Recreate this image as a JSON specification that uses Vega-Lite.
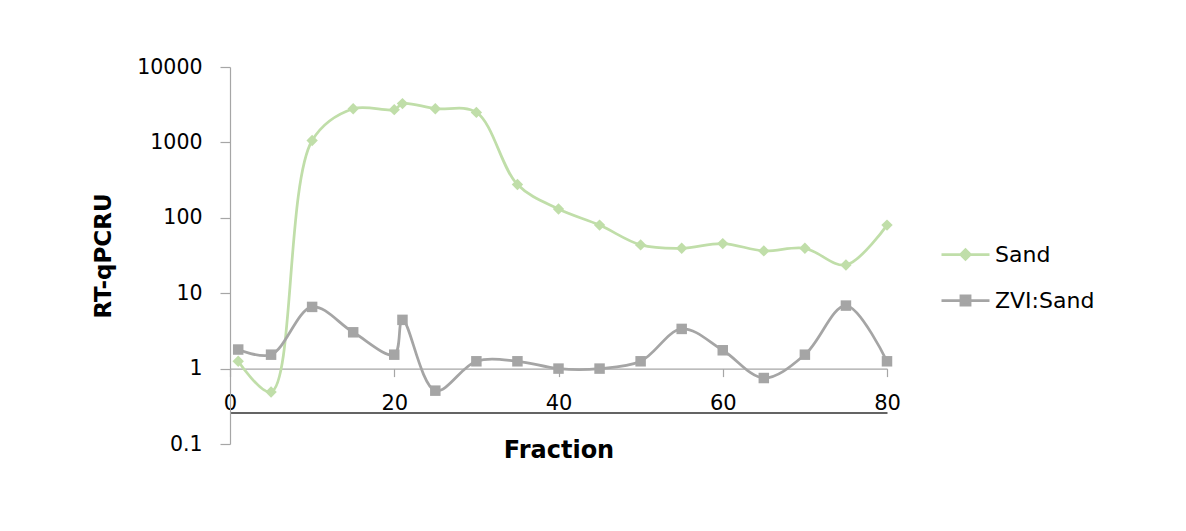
{
  "$schema": "https://vega.github.io/schema/vega-lite/v6.json",
  "width": 657,
  "height": 377,
  "autosize": {"type": "none"},
  "padding": {"left": 230, "top": 67, "right": 299, "bottom": 87},
  "background": "white",
  "config": {
    "view": {"stroke": null},
    "font": "DejaVu Sans",
    "axis": {"grid": false, "labelFont": "DejaVu Sans", "titleFont": "DejaVu Sans", "labelColor": "#000000", "titleColor": "#000000"}
  },
  "data": {
    "values": [
      {"series": "Sand", "fraction": 1, "value": 1.25},
      {"series": "Sand", "fraction": 5, "value": 0.49},
      {"series": "Sand", "fraction": 10, "value": 1060},
      {"series": "Sand", "fraction": 15, "value": 2800},
      {"series": "Sand", "fraction": 20, "value": 2720},
      {"series": "Sand", "fraction": 21, "value": 3270},
      {"series": "Sand", "fraction": 25, "value": 2800},
      {"series": "Sand", "fraction": 30, "value": 2500},
      {"series": "Sand", "fraction": 35, "value": 276},
      {"series": "Sand", "fraction": 40, "value": 131},
      {"series": "Sand", "fraction": 45, "value": 80},
      {"series": "Sand", "fraction": 50, "value": 43.7},
      {"series": "Sand", "fraction": 55, "value": 39.4},
      {"series": "Sand", "fraction": 60, "value": 45.5},
      {"series": "Sand", "fraction": 65, "value": 36.4},
      {"series": "Sand", "fraction": 70, "value": 39.4},
      {"series": "Sand", "fraction": 75, "value": 23.7},
      {"series": "Sand", "fraction": 80, "value": 80},
      {"series": "ZVI:Sand", "fraction": 1, "value": 1.79},
      {"series": "ZVI:Sand", "fraction": 5, "value": 1.53},
      {"series": "ZVI:Sand", "fraction": 10, "value": 6.58},
      {"series": "ZVI:Sand", "fraction": 15, "value": 3.03},
      {"series": "ZVI:Sand", "fraction": 20, "value": 1.53},
      {"series": "ZVI:Sand", "fraction": 21, "value": 4.43},
      {"series": "ZVI:Sand", "fraction": 25, "value": 0.51},
      {"series": "ZVI:Sand", "fraction": 30, "value": 1.25},
      {"series": "ZVI:Sand", "fraction": 35, "value": 1.25},
      {"series": "ZVI:Sand", "fraction": 40, "value": 1.0},
      {"series": "ZVI:Sand", "fraction": 45, "value": 1.0},
      {"series": "ZVI:Sand", "fraction": 50, "value": 1.25},
      {"series": "ZVI:Sand", "fraction": 55, "value": 3.36},
      {"series": "ZVI:Sand", "fraction": 60, "value": 1.75},
      {"series": "ZVI:Sand", "fraction": 65, "value": 0.75},
      {"series": "ZVI:Sand", "fraction": 70, "value": 1.53},
      {"series": "ZVI:Sand", "fraction": 75, "value": 6.85},
      {"series": "ZVI:Sand", "fraction": 80, "value": 1.25}
    ]
  },
  "resolve": {"scale": {"x": "shared"}, "axis": {"x": "independent"}},
  "layer": [
    {
      "mark": {"type": "line", "interpolate": "catmull-rom", "strokeWidth": 2.75},
      "encoding": {
        "x": {
          "field": "fraction", "type": "quantitative",
          "scale": {"domain": [0, 80], "nice": false, "zero": false},
          "axis": {
            "orient": "bottom", "offset": -75.4,
            "values": [0, 20, 40, 60, 80],
            "domainColor": "#a6a6a6", "domainWidth": 1.2,
            "tickColor": "#a6a6a6", "tickSize": 8, "tickWidth": 1.2,
            "labelFontSize": 21, "labelPadding": 16, "labelFlush": false,
            "title": "Fraction", "titleFontSize": 24, "titleFontWeight": "bold", "titlePadding": 25
          }
        },
        "y": {
          "field": "value", "type": "quantitative",
          "scale": {"type": "log", "domain": [0.1, 10000], "nice": false},
          "axis": {
            "values": [0.1, 1, 10, 100, 1000, 10000],
            "format": "~g",
            "domainColor": "#a6a6a6", "domainWidth": 1.2,
            "tickColor": "#a6a6a6", "tickSize": 10, "tickWidth": 1.2,
            "labelFontSize": 20.5, "labelPadding": 18,
            "title": "RT-qPCRU", "titleFontSize": 23, "titleFontWeight": "bold", "titlePadding": 21
          }
        },
        "color": {
          "field": "series", "type": "nominal",
          "scale": {"domain": ["Sand", "ZVI:Sand"], "range": ["#c0dea9", "#a5a5a5"]},
          "legend": {
            "orient": "none", "legendX": 710, "legendY": 162,
            "title": null,
            "symbolSize": 2304,
            "symbolStrokeWidth": 2.75,
            "labelFontSize": 22, "labelFont": "DejaVu Sans", "labelColor": "#000000",
            "labelOffset": 4, "rowPadding": 9,
            "encode": {
              "symbols": {
                "update": {
                  "shape": {"signal": "datum.value === 'Sand' ? 'M-1,0L1,0M0,-0.2L0.2,0L0,0.2L-0.2,0Z' : 'M-1,0L1,0M-0.19,-0.19L0.19,-0.19L0.19,0.19L-0.19,0.19Z'"},
                  "size": {"value": 2304},
                  "fill": {"signal": "datum.value === 'Sand' ? '#c0dea9' : '#a5a5a5'"},
                  "stroke": {"signal": "datum.value === 'Sand' ? '#c0dea9' : '#a5a5a5'"},
                  "strokeWidth": {"value": 2.75},
                  "opacity": {"value": 1}
                }
              }
            }
          }
        }
      }
    },
    {
      "transform": [{"filter": "datum.series === 'Sand'"}],
      "mark": {"type": "point", "shape": "diamond", "filled": true, "opacity": 1, "size": 130},
      "encoding": {
        "x": {
          "field": "fraction", "type": "quantitative",
          "axis": {
            "orient": "bottom", "offset": -31.5,
            "domainColor": "#303030", "domainWidth": 1.3,
            "ticks": false, "labels": false, "title": null
          }
        },
        "y": {"field": "value", "type": "quantitative"},
        "color": {"field": "series", "type": "nominal", "legend": null}
      }
    },
    {
      "transform": [{"filter": "datum.series === 'ZVI:Sand'"}],
      "mark": {"type": "point", "shape": "square", "filled": true, "opacity": 1, "size": 110},
      "encoding": {
        "x": {"field": "fraction", "type": "quantitative", "axis": null},
        "y": {"field": "value", "type": "quantitative"},
        "color": {"field": "series", "type": "nominal", "legend": null}
      }
    }
  ]
}
